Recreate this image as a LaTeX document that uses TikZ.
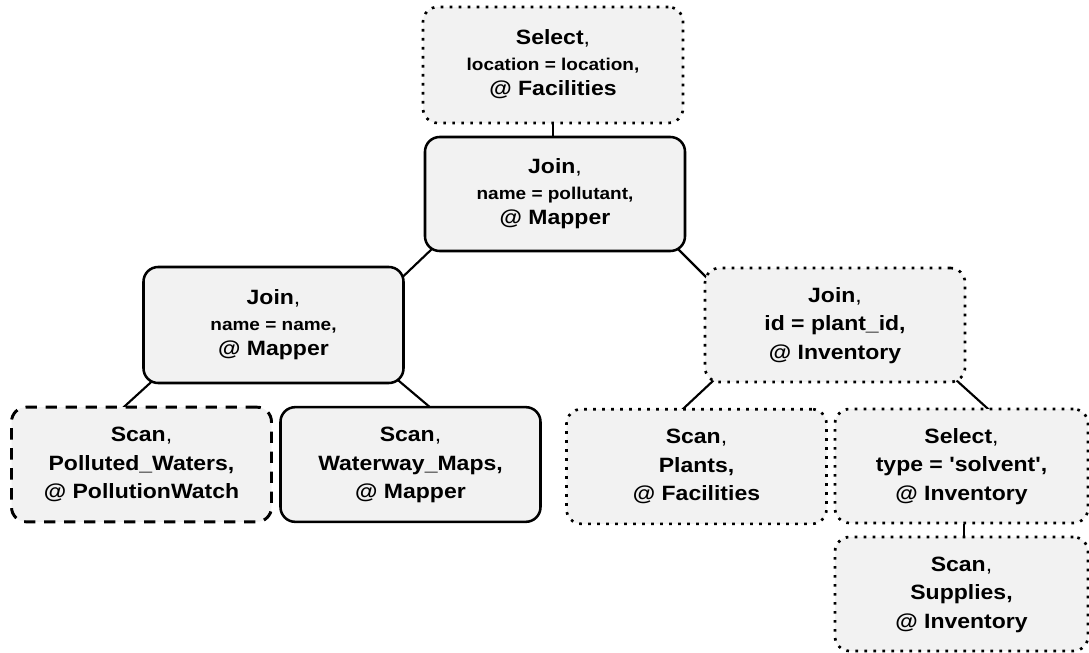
\documentclass[tikz,border=0pt]{standalone}
\usepackage{fontspec}
\setmainfont{Liberation Sans}
\usetikzlibrary{backgrounds,calc}
\definecolor{boxfill}{HTML}{F2F2F2}
\newcommand\SmTxt{\fontsize{14.25pt}{18pt}\selectfont\bfseries}
\newcommand\Cm{{\mdseries ,}}
\newcommand\Lbl[4]{\raisebox{-2pt}{\scalebox{1}[0.9]{\fontsize{17.25pt}{#1}\selectfont\bfseries
  \begin{tabular}{@{}c@{}}#2\\#3\\#4\end{tabular}}}}
\tikzset{
  box/.style={rectangle, rounded corners=11pt, fill=boxfill, align=center,
    inner sep=0pt, minimum width=195pt, minimum height=87pt},
  solidbox/.style={box, draw, line width=1.9pt},
  dottedbox/.style={box, draw, line width=2pt, dash pattern=on 2pt off 4.75pt},
  dashedbox/.style={box, draw, line width=2.2pt, dash pattern=on 8.5pt off 6.5pt},
  edge/.style={draw, line width=1.6pt},
}
\begin{document}
\begin{tikzpicture}[x=0.75pt,y=-0.75pt]
\useasboundingbox (0,0) rectangle (1089,653);
\node[dottedbox] (sel1) at (553,65) {\Lbl{21.25pt}{Select\Cm}{\SmTxt location = location,}{@ Facilities}};
\node[solidbox, minimum height=85.5pt] (jtop) at (555,194) {\Lbl{21.25pt}{Join\Cm}{\SmTxt name = pollutant,}{@ Mapper}};
\node[solidbox] (jleft) at (273.5,325) {\Lbl{21.25pt}{Join\Cm}{\SmTxt name = name,}{@ Mapper}};
\node[dottedbox, minimum height=85.5pt] (jright) at (835,325) {\Lbl{23.75pt}{Join\Cm}{id = plant\_id,}{@ Inventory}};
\node[dashedbox, minimum height=86pt] (scanpw) at (141.5,464.5) {\Lbl{23.75pt}{Scan\Cm}{Polluted\_Waters,}{@ PollutionWatch}};
\node[solidbox, minimum height=86pt] (scanwm) at (410.5,464.5) {\Lbl{23.75pt}{Scan\Cm}{Waterway\_Maps,}{@ Mapper}};
\node[dottedbox, minimum height=86pt] (scanpl) at (696.5,466.5) {\Lbl{23.75pt}{Scan\Cm}{Plants,}{@ Facilities}};
\node[dottedbox, minimum width=189.75pt, minimum height=85.5pt] (sel2) at (961.5,466) {\Lbl{23.75pt}{Select\Cm}{type = \textquotesingle solvent\textquotesingle,}{@ Inventory}};
\node[dottedbox, minimum width=189.75pt, minimum height=85.5pt] (scansu) at (961.5,594) {\Lbl{23.75pt}{Scan\Cm}{Supplies,}{@ Inventory}};
\begin{scope}[on background layer]
\draw[edge] (sel1.south) -- (sel1.south |- jtop.north);
\draw[edge] ($(jtop.south west)+(10,-5)$) -- ($(jleft.north east)+(-4,13)$);
\draw[edge] ($(jleft.south west)+(12,-5)$) -- ($(scanpw.north)+(-19.5,3)$);
\draw[edge] ($(jleft.south east)+(-9,-6)$) -- ($(scanwm.north)+(21.5,3)$);
\draw[edge] ($(jtop.south east)+(-10,-5)$) -- ($(jright.north west)+(4,12)$);
\draw[edge] ($(jright.south west)+(11,-4)$) -- ($(scanpl.north)+(-15.5,3)$);
\draw[edge] ($(jright.south east)+(-11,-4)$) -- ($(sel2.north)+(28.5,3)$);
\draw[edge] ($(sel2.south)+(2.5,0)$) -- ($(scansu.north)+(2.5,0)$);
\end{scope}
\end{tikzpicture}
\end{document}
